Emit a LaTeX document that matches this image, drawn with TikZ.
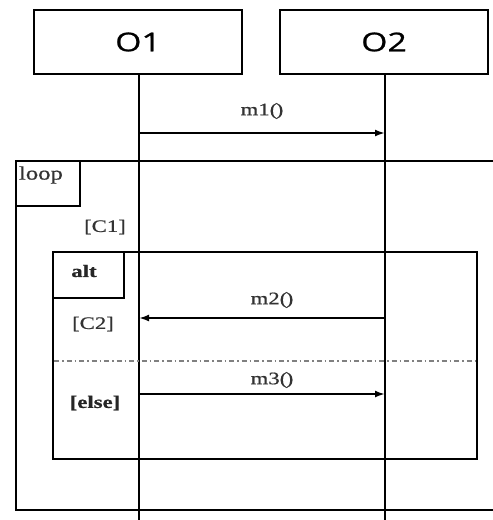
\documentclass[tikz,border=0pt]{standalone}
\usepackage{fontspec}
\usetikzlibrary{arrows.meta}
\newfontfamily\hdfont[FakeStretch=1.3,FakeBold=0.8]{Open Sans}
\newfontfamily\lblfont[FakeStretch=1.3,FakeBold=0.7]{Liberation Serif}
\newcommand{\prs}{(\kern-1.5pt)}
\begin{document}
\begin{tikzpicture}[x=1pt,y=-1pt,
  line width=2pt,
  objbox/.style={draw,minimum width=208pt,minimum height=64pt,inner sep=0pt,font=\hdfont\fontsize{26}{28}\selectfont},
  lbl/.style={inner sep=0pt,text=black!80,font=\lblfont\fontsize{17.5}{19}\selectfont},
  blbl/.style={inner sep=0pt,text=black!85,font=\lblfont\bfseries\fontsize{17.5}{19}\selectfont},
  msg/.style={-{Latex[length=10pt,width=7pt]},line width=2pt},
  sep/.style={gray,line width=1.2pt,dash pattern=on 5pt off 3pt on 1.5pt off 3pt}]
\useasboundingbox (0,0) rectangle (493,520);
% objects
\node[objbox] (o1) at (138,42) {O1};
\node[objbox] (o2) at (384,42) {O2};
\coordinate (o1end) at (139,520);
\coordinate (o2end) at (385,520);
\draw (o1.south -| o1end) -- (o1end);
\draw (o2.south -| o2end) -- (o2end);
% loop frame
\draw (494,161) -- (16,161) -- (16,510) -- (494,510);
\draw (16,206) -- (80,206) -- (80,161);
\node[lbl,anchor=west,font=\lblfont\fontsize{19}{20}\selectfont] (loop) at (18,175) {loop};
\node[lbl] (c1) at (105,227) {[C1]};
% alt frame
\draw (53,252) rectangle (477,459);
\draw (53,298) -- (124,298) -- (124,252);
\node[blbl] (alt) at (84,271) {alt};
\node[lbl] (c2) at (93,324) {[C2]};
\node[blbl] (else) at (95,403) {[else]};
\coordinate (sepl) at (54,361);
\coordinate (sepr) at (476,361);
\draw[sep] (sepl) -- (sepr);
% messages
\coordinate (m1s) at (140,133);
\coordinate (m1e) at (385,133);
\draw[msg] (m1s) -- (m1e);
\node[lbl] (m1) at (262,111) {m1\prs};
\coordinate (m2s) at (384,318);
\coordinate (m2e) at (139,318);
\draw[msg] (m2s) -- (m2e);
\node[lbl] (m2) at (272,300) {m2\prs};
\coordinate (m3s) at (140,394);
\coordinate (m3e) at (385,394);
\draw[msg] (m3s) -- (m3e);
\node[lbl] (m3) at (272,380) {m3\prs};
\end{tikzpicture}
\end{document}
